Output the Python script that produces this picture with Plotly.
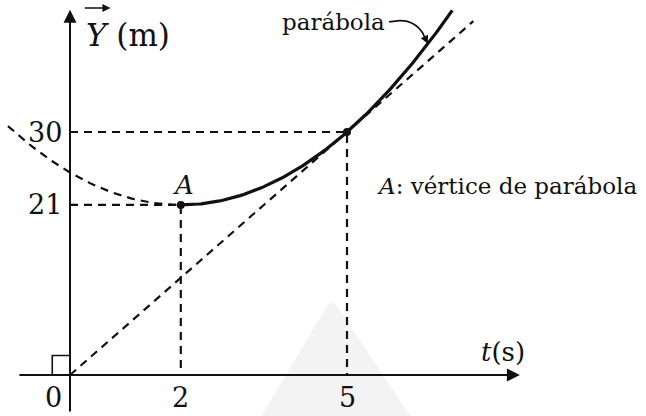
import numpy as np
import plotly.graph_objects as go

# Key values of the motion
vertex_t = [2]          # s, vertex A of the parabola
vertex_y = [21]         # m
point_t = [5]           # s, tangency point
point_y = [30]          # m
tick_t = [0, 2, 5]
tick_y = [21, 30]

# Parabola through the vertex and the point: y = y0 + a (t - t0)^2
t0, y0 = vertex_t[0], vertex_y[0]
t1, y1 = point_t[0], point_y[0]
a = (y1 - y0) / (t1 - t0) ** 2
slope = 2 * a * (t1 - t0)          # slope of the tangent at t1
intercept = y1 - slope * t1


def parab(t):
    return y0 + a * (t - t0) ** 2


t_dash = np.linspace(-1.12, t0, 60)
t_solid = np.linspace(t0, 6.9, 120)
t_tan = np.array([0.0, 7.28])

FONT = "DejaVu Serif"
INK = "#111111"

fig = go.Figure()

# dashed left branch of the parabola
fig.add_trace(go.Scatter(x=t_dash, y=parab(t_dash), mode="lines",
                         line=dict(color=INK, width=2.2, dash="8px,6px"),
                         hoverinfo="skip"))
# tangent line through the origin
fig.add_trace(go.Scatter(x=t_tan, y=slope * t_tan + intercept, mode="lines",
                         line=dict(color=INK, width=2.2, dash="8px,6px"),
                         hoverinfo="skip"))
# guide lines to the axes
for tv, yv in zip(vertex_t + point_t, vertex_y + point_y):
    fig.add_trace(go.Scatter(x=[0, tv, tv], y=[yv, yv, 0], mode="lines",
                             line=dict(color=INK, width=2.2, dash="8px,6px"),
                             hoverinfo="skip"))
# solid right branch
fig.add_trace(go.Scatter(x=t_solid, y=parab(t_solid), mode="lines",
                         line=dict(color=INK, width=3.2),
                         hoverinfo="skip"))
# marked points
fig.add_trace(go.Scatter(x=vertex_t + point_t, y=vertex_y + point_y,
                         mode="markers",
                         marker=dict(color=INK, size=8),
                         hoverinfo="skip"))

annotations = []

# axes with arrowheads
annotations.append(dict(x=8.12, y=0, ax=-0.94, ay=0, xref="x", yref="y",
                        axref="x", ayref="y", text="", showarrow=True,
                        arrowhead=2, arrowsize=1.3, arrowwidth=2,
                        arrowcolor=INK, standoff=0))
annotations.append(dict(x=0, y=45.1, ax=0, ay=-4.7, xref="x", yref="y",
                        axref="x", ayref="y", text="", showarrow=True,
                        arrowhead=2, arrowsize=1.3, arrowwidth=2,
                        arrowcolor=INK, standoff=0))
# vector arrow over Y
annotations.append(dict(x=0.73, y=45.3, ax=0.24, ay=45.3, xref="x", yref="y",
                        axref="x", ayref="y", text="", showarrow=True,
                        arrowhead=2, arrowsize=1.0, arrowwidth=1.6,
                        arrowcolor=INK, standoff=0))

# axis titles
annotations.append(dict(x=0.26, y=42.0, xref="x", yref="y", xanchor="left",
                        yanchor="middle", showarrow=False,
                        text="<i>Y</i> (m)",
                        font=dict(family=FONT, size=31, color=INK)))
annotations.append(dict(x=7.38, y=2.9, xref="x", yref="y", xanchor="left",
                        yanchor="middle", showarrow=False,
                        text="<i>t</i>(s)",
                        font=dict(family=FONT, size=26, color=INK)))

# tick labels
for tv in tick_t:
    annotations.append(dict(x=tv - (0.3 if tv == 0 else 0), y=-2.8,
                            xref="x", yref="y", xanchor="center",
                            yanchor="middle", showarrow=False, text=str(tv),
                            font=dict(family=FONT, size=27, color=INK)))
for yv in tick_y:
    annotations.append(dict(x=-0.1, y=yv, xref="x", yref="y",
                            xanchor="right", yanchor="middle",
                            showarrow=False, text=str(yv),
                            font=dict(family=FONT, size=27, color=INK)))

# vertex label and legend text
annotations.append(dict(x=t0 + 0.05, y=y0 + 2.4, xref="x", yref="y",
                        xanchor="center", yanchor="middle", showarrow=False,
                        text="<i>A</i>",
                        font=dict(family=FONT, size=26, color=INK)))
annotations.append(dict(x=5.5, y=y0 + 2.3, xref="x", yref="y",
                        xanchor="left", yanchor="middle", showarrow=False,
                        text="<i>A</i>: vértice de parábola",
                        font=dict(family=FONT, size=23, color=INK)))
annotations.append(dict(x=5.72, y=43.6, xref="x", yref="y",
                        xanchor="right", yanchor="middle", showarrow=False,
                        text="parábola",
                        font=dict(family=FONT, size=23, color=INK)))
# arrowhead of the leader line
t_lead = 6.46
annotations.append(dict(x=t_lead, y=parab(t_lead), ax=6.36, ay=42.3,
                        xref="x", yref="y", axref="x", ayref="y", text="",
                        showarrow=True, arrowhead=2, arrowsize=1.0,
                        arrowwidth=1.6, arrowcolor=INK, standoff=0))

shapes = [
    # faint watermark
    dict(type="path", xref="paper", yref="paper",
         path="M 0.405 0 L 0.505 0.262 Q 0.514 0.282 0.523 0.262 L 0.635 0 Z",
         fillcolor="#f3f3f3", line=dict(width=0), layer="below"),
    # right-angle mark at the origin
    dict(type="rect", xref="x", yref="y", x0=-0.32, x1=0, y0=0, y1=2.4,
         line=dict(color=INK, width=1.6)),
    # ticks on the Y axis
    dict(type="line", xref="x", yref="y", x0=0, x1=0.1, y0=21, y1=21,
         line=dict(color=INK, width=2)),
    dict(type="line", xref="x", yref="y", x0=0, x1=0.1, y0=30, y1=30,
         line=dict(color=INK, width=2)),
    # leader line from the "parábola" label
    dict(type="path", xref="x", yref="y",
         path="M 5.76,43.6 L 5.95,43.75 Q 6.22,43.8 6.38,42.1",
         line=dict(color=INK, width=1.6)),
]

fig.update_layout(
    width=646, height=416,
    margin=dict(l=0, r=0, t=0, b=0),
    paper_bgcolor="white", plot_bgcolor="white",
    showlegend=False,
    xaxis=dict(visible=False, range=[-70 / 55.4, 576 / 55.4], fixedrange=True),
    yaxis=dict(visible=False, range=[-41 / 8.1, 375 / 8.1], fixedrange=True),
    annotations=annotations,
    shapes=shapes,
)

fig.write_html("out.html")
